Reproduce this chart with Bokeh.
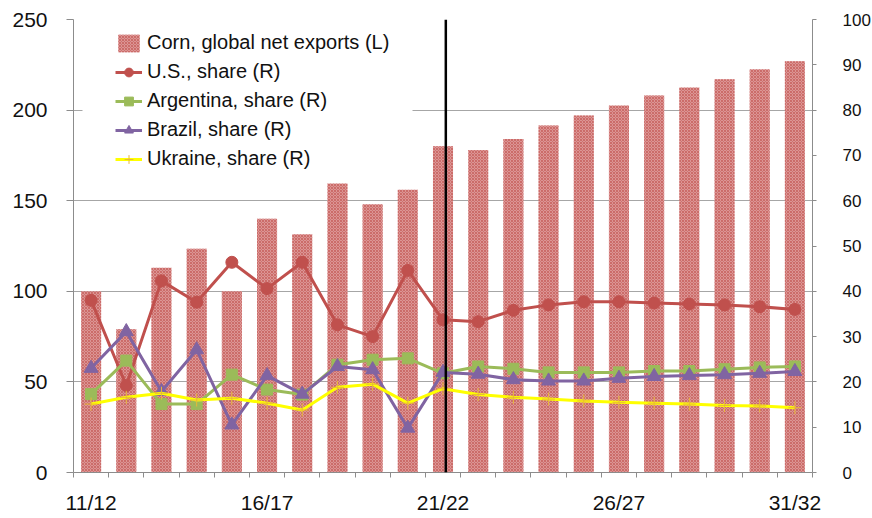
from bokeh.plotting import figure
from bokeh.models import (Range1d, LinearAxis, FixedTicker, Legend, LegendItem,
                          Span, BoxAnnotation)
from bokeh.embed import file_html
from bokeh.resources import INLINE

years = ["11/12", "12/13", "13/14", "14/15", "15/16", "16/17", "17/18", "18/19",
         "19/20", "20/21", "21/22", "22/23", "23/24", "24/25", "25/26", "26/27",
         "27/28", "28/29", "29/30", "30/31", "31/32"]
corn_exports = [100, 79, 113, 123.5, 100, 140, 131.5, 159.5, 148, 156, 180,
                178, 184, 191.5, 197, 202.5, 208, 212.5, 217, 222.5, 227]
us_share = [38.0, 19.2, 42.3, 37.6, 46.4, 40.6, 46.4, 32.6, 30.0, 44.6, 33.7,
            33.3, 35.8, 37.0, 37.7, 37.7, 37.4, 37.2, 37.0, 36.6, 36.0]
argentina_share = [17.3, 24.7, 15.1, 15.1, 21.6, 18.3, 17.2, 23.8, 24.9, 25.2, 21.9,
                   23.4, 22.9, 22.1, 22.1, 22.1, 22.4, 22.4, 22.8, 23.2, 23.4]
brazil_share = [23.0, 31.1, 17.9, 27.1, 10.5, 21.4, 17.3, 23.4, 22.7, 9.8, 22.1,
                21.7, 20.5, 20.2, 20.2, 20.8, 21.2, 21.4, 21.6, 21.9, 22.3]
ukraine_share = [15.1, 16.6, 17.5, 16.0, 16.4, 15.3, 13.8, 18.8, 19.5, 15.3, 18.5,
                 17.2, 16.6, 16.2, 15.8, 15.5, 15.3, 15.1, 14.8, 14.7, 14.3]
labeled_years = ["11/12", "16/17", "21/22", "26/27", "31/32"]
projection_start = "21/22"

FONT = "Liberation Sans"
AXIS_GREY = "#8c8c8c"
TEXT = "#111111"

xs = [i + 0.5 for i in range(len(years))]

p = figure(frame_width=739, frame_height=453,
           x_range=Range1d(0, len(years)), y_range=Range1d(0, 250),
           output_backend="svg", toolbar_location=None,
           min_border_left=73, min_border_right=59, min_border_top=19,
           min_border_bottom=42)
p.outline_line_color = None
p.background_fill_color = "white"
p.border_fill_color = "white"
p.extra_y_ranges = {"share": Range1d(0, 100)}

# x axis
xa = p.xaxis[0]
tick_pos = [xs[years.index(y)] for y in labeled_years]
xa.ticker = FixedTicker(ticks=tick_pos, minor_ticks=list(range(len(years) + 1)))
xa.major_label_overrides = {t: y for t, y in zip(tick_pos, labeled_years)}
xa.major_tick_line_color = None
xa.major_tick_out = 0
xa.major_tick_in = 0
xa.minor_tick_out = 5
xa.minor_tick_in = 0
xa.minor_tick_line_color = AXIS_GREY
xa.axis_line_color = AXIS_GREY
xa.major_label_standoff = 13
xa.major_label_text_font = FONT
xa.major_label_text_font_size = "21px"
xa.major_label_text_color = TEXT

# left axis
ya = p.yaxis[0]
ya.ticker = FixedTicker(ticks=[0, 50, 100, 150, 200, 250])
ya.major_tick_out = 7
ya.major_tick_in = 0
ya.minor_tick_line_color = None
ya.major_tick_line_color = AXIS_GREY
ya.axis_line_color = AXIS_GREY
ya.major_label_standoff = 19
ya.major_label_text_font = FONT
ya.major_label_text_font_size = "21px"
ya.major_label_text_color = TEXT

# right axis
ra = LinearAxis(y_range_name="share", ticker=FixedTicker(ticks=list(range(0, 101, 10))))
ra.major_tick_out = 4
ra.major_tick_in = 0
ra.minor_tick_line_color = None
ra.major_tick_line_color = AXIS_GREY
ra.axis_line_color = AXIS_GREY
ra.major_label_standoff = 26
ra.major_label_text_font = FONT
ra.major_label_text_font_size = "17px"
ra.major_label_text_color = TEXT
p.add_layout(ra, "right")

p.xgrid.grid_line_color = None
p.ygrid.ticker = FixedTicker(ticks=[50, 100, 150, 200, 250])
p.ygrid.grid_line_color = "#a6a6a6"
p.ygrid.grid_line_width = 1

bars = p.vbar(x=xs, top=corn_exports, width=0.57, bottom=0,
              fill_color="#dc9594", line_color=None,
              hatch_pattern="diagonal_cross", hatch_color="#c0504d",
              hatch_alpha=0.6, hatch_scale=3, hatch_weight=1)

def series(vals, color, marker, msize, mcolor=None, mline=None, mlw=1):
    ln = p.line(xs, vals, y_range_name="share", line_color=color, line_width=3)
    sc = p.scatter(xs, vals, y_range_name="share", marker=marker, size=msize,
                   fill_color=mcolor or color, line_color=mline or color,
                   line_width=mlw)
    return [ln, sc]

us_r = series(us_share, "#c0504d", "circle", 12)
ar_r = series(argentina_share, "#9bbb59", "square", 11)
br_r = series(brazil_share, "#8064a2", "triangle", 14)
uk_r = series(ukraine_share, "#ffff00", "cross", 13, mline="#e8b838", mlw=1)

p.add_layout(Span(location=xs[years.index(projection_start)] + 0.08,
                  dimension="height", line_color="black", line_width=2.5))

# white legend box (frame-relative screen units, y measured from frame bottom)
p.add_layout(BoxAnnotation(left=9, right=339, top=444, bottom=297,
                           left_units="screen", right_units="screen",
                           top_units="screen", bottom_units="screen",
                           fill_color="white", fill_alpha=1, line_color=None))

legend = Legend(items=[
    LegendItem(label="Corn, global net exports (L)", renderers=[bars]),
    LegendItem(label="U.S., share (R)", renderers=us_r),
    LegendItem(label="Argentina, share (R)", renderers=ar_r),
    LegendItem(label="Brazil, share (R)", renderers=br_r),
    LegendItem(label="Ukraine, share (R)", renderers=uk_r),
], location=(42, 298.8))
legend.padding = 0
legend.margin = 0
legend.spacing = 0
legend.label_height = 29
legend.glyph_height = 22
legend.glyph_width = 27
legend.label_standoff = 5
legend.border_line_color = None
legend.background_fill_alpha = 0
legend.label_text_font = FONT
legend.label_text_font_size = "20px"
legend.label_text_color = TEXT
p.add_layout(legend)

open("out.html", "w").write(file_html(p, INLINE))
